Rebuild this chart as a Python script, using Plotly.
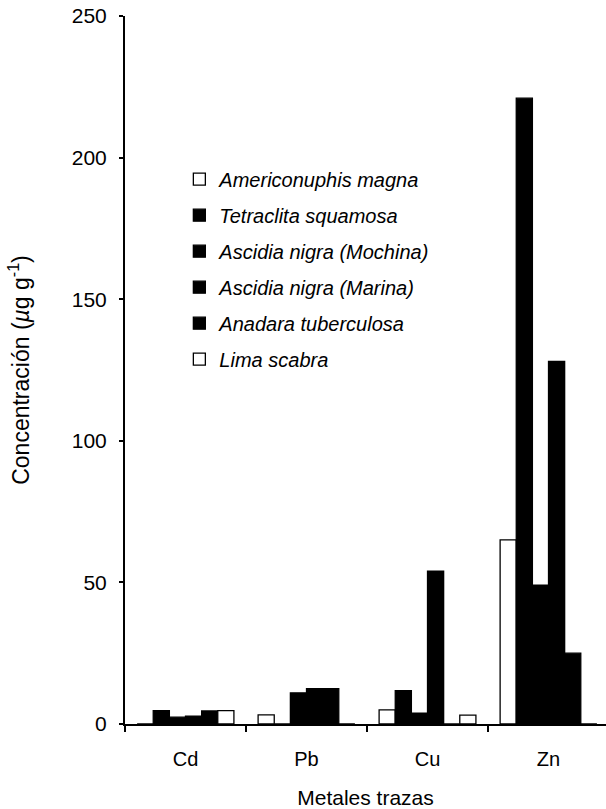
import plotly.graph_objects as go

metals = ["Cd", "Pb", "Cu", "Zn"]
species = [
    "Americonuphis magna",
    "Tetraclita squamosa",
    "Ascidia nigra (Mochina)",
    "Ascidia nigra (Marina)",
    "Anadara tuberculosa",
    "Lima scabra",
]
americonuphis = [0, 3.2, 5.0, 65]
tetraclita = [4.7, 0, 11.8, 221]
ascidia_mochina = [2.4, 11, 3.8, 49]
ascidia_marina = [2.8, 12.5, 54, 128]
anadara = [4.6, 12.5, 0, 25]
lima = [4.7, 0, 3.1, 0]
values = [americonuphis, tetraclita, ascidia_mochina, ascidia_marina, anadara, lima]
fills = ["white", "black", "black", "black", "black", "white"]

FONT = "Liberation Sans, Arial, Helvetica, sans-serif"

fig = go.Figure()
for i, (name, vals, fc) in enumerate(zip(species, values, fills)):
    fig.add_trace(go.Bar(
        name=name, x=metals, y=vals,
        marker=dict(color=fc, line=dict(color="black", width=1.3)),
        legendgroup=f"g{i}",
    ))

fig.update_layout(
    width=606, height=809,
    margin=dict(l=125, r=0, t=16, b=85),
    paper_bgcolor="white", plot_bgcolor="white",
    barmode="group", bargap=0.2, bargroupgap=0,
    font=dict(family=FONT, color="black", size=20),
    showlegend=True,
    legend=dict(
        x=0.113, y=0.797, xanchor="left", yanchor="top",
        traceorder="grouped", tracegroupgap=7,
        font=dict(family=FONT, size=20, style="italic"),
        bgcolor="rgba(0,0,0,0)",
    ),
    xaxis=dict(
        range=[-0.5, 3.475],
        showline=True, linecolor="black", linewidth=2,
        ticks="outside", tickson="boundaries", ticklen=6, tickwidth=2, tickcolor="black",
        ticklabelstandoff=16,
        tickfont=dict(size=20),
        title=dict(text="Metales trazas", font=dict(size=21), standoff=22),
        showgrid=False, zeroline=False,
    ),
    yaxis=dict(
        range=[0, 250],
        tickvals=[0, 50, 100, 150, 200, 250],
        showline=True, linecolor="black", linewidth=2,
        ticks="outside", ticklen=4, tickwidth=1.5, tickcolor="black",
        ticklabelstandoff=8,
        tickfont=dict(size=21),
        title=dict(text="Concentración (<i>µ</i>g g<sup>-1</sup>)", font=dict(size=23), standoff=36),
        showgrid=False, zeroline=False,
    ),
)

fig.write_html("out.html")
